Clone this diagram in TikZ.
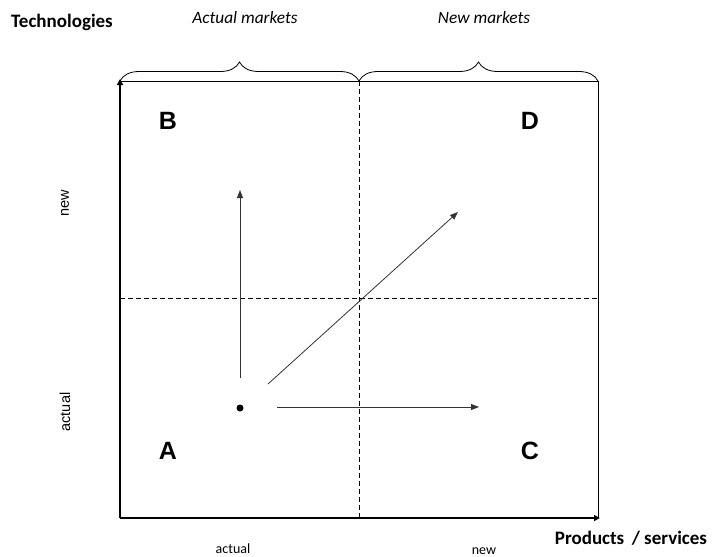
\documentclass[tikz,border=0pt]{standalone}
\usepackage{fontspec}
\setmainfont{Carlito}
\newfontfamily\arialfont{Liberation Sans}
\usetikzlibrary{arrows.meta,decorations.pathreplacing}

\begin{document}
\begin{tikzpicture}[x=1pt, y=-1pt,
    every node/.style={inner sep=0pt, font=\fontsize{14}{17}\selectfont},
    title/.style={font=\bfseries\fontsize{19}{22}\selectfont},
    market/.style={font=\itshape\fontsize{17.3}{20}\selectfont},
    level/.style={rotate=90, font=\arialfont\fontsize{14.5}{17}\selectfont},
    quad/.style={font=\arialfont\bfseries\fontsize{25}{30}\selectfont},
    axis/.style={line width=2.4pt, -{Triangle[length=6pt,width=6pt]}},
    move/.style={line width=0.8pt, black!80, -{Triangle[length=8pt,width=6pt]}},
    grid/.style={line width=0.7pt, dashed, dash pattern=on 5pt off 3pt}]
  \useasboundingbox (0,0) rectangle (715,557);
  % frame corners
  \coordinate (o) at (120,518);
  \coordinate (tl) at (120,81);
  \coordinate (tm) at (359,81);
  \coordinate (tr) at (598,81);
  \coordinate (br) at (598,518);
  \coordinate (bm) at (359,518);
  \coordinate (ml) at (120,298);
  \coordinate (mr) at (598,298);
  % box and split
  \draw[line width=0.8pt] (tl) -- (tr) -- (br);
  \draw[grid] (tm) -- (bm);
  \draw[grid] (ml) -- (mr);
  \draw[axis] (o) -- (120,79);
  \draw[axis] (o) -- (600,518);
  % market braces
  \draw[line width=0.8pt, decorate, decoration={brace, amplitude=19pt}] (tl) -- (tm);
  \draw[line width=0.8pt, decorate, decoration={brace, amplitude=19pt}] (tm) -- (tr);
  % texts
  \node[title] (tech) at (62,22) {Technologies};
  \node[market] (actm) at (245,18) {Actual markets};
  \node[market] (newm) at (484,18) {New markets};
  \node[title] (prod) at (631,538) {Products\, / services};
  \node[level] (ynew) at (65,203) {new};
  \node[level] (yact) at (65,412) {actual};
  \node (xact) at (233,549) {actual};
  \node (xnew) at (484,551) {new};
  \node[quad] (qB) at (168,121) {B};
  \node[quad] (qD) at (530,121) {D};
  \node[quad] (qA) at (168,451) {A};
  \node[quad] (qC) at (530,451) {C};
  % strategies
  \node[circle, fill, minimum size=7pt] (start) at (240,408) {};
  \coordinate (up0) at (240,378);
  \coordinate (up1) at (240,190);
  \coordinate (dg0) at (268,384);
  \coordinate (dg1) at (458,212);
  \coordinate (rt0) at (277,407);
  \coordinate (rt1) at (479,407);
  \draw[move] (up0) -- (up1);
  \draw[move] (dg0) -- (dg1);
  \draw[move] (rt0) -- (rt1);
\end{tikzpicture}
\end{document}
